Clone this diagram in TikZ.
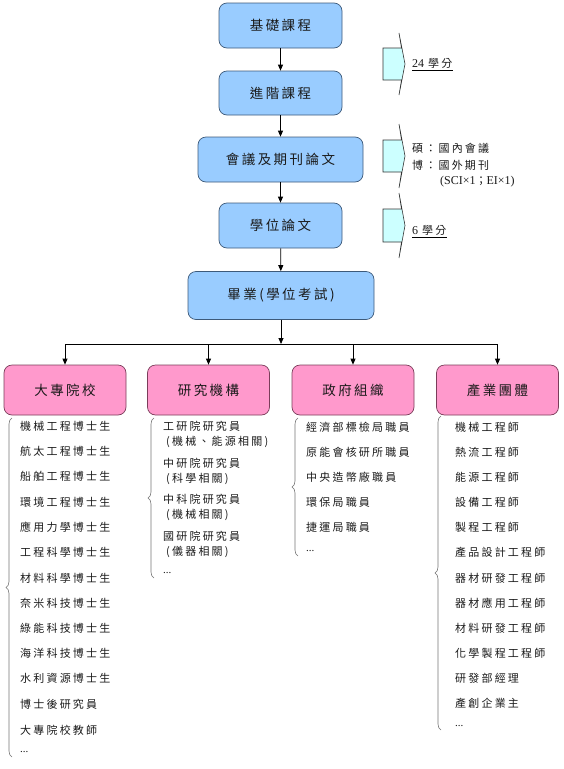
\documentclass[tikz,border=0pt]{standalone}
\usepackage{fontspec}
\setmainfont{Liberation Serif}
\newfontfamily\cjkbox{Noto Sans CJK TC}[LetterSpace=18]
\newfontfamily\cjklist{Noto Sans CJK TC}[LetterSpace=20]
\newfontfamily\cjkplain{Noto Sans CJK TC}
\usetikzlibrary{arrows.meta,decorations.pathreplacing}
\definecolor{bluefill}{HTML}{99CCFF}
\definecolor{bluedraw}{HTML}{3D5A7A}
\definecolor{pinkfill}{HTML}{FF99CC}
\definecolor{pinkdraw}{HTML}{7A3D5A}
\definecolor{cyanfill}{HTML}{CCFFFF}
\definecolor{txt}{HTML}{1A1A1A}
\tikzset{
  bluebox/.style={draw=bluedraw, fill=bluefill, rounded corners=8pt, minimum height=45pt, inner sep=0pt, line width=0.7pt, font=\cjkbox\fontsize{13.5}{15}\selectfont, text=txt},
  pinkbox/.style={draw=pinkdraw, fill=pinkfill, rounded corners=8pt, minimum width=122pt, minimum height=50pt, inner sep=0pt, line width=0.7pt, font=\cjkbox\fontsize{13.5}{15}\selectfont, text=txt},
  arr/.style={-{Triangle[length=6pt,width=5pt]}, line width=0.8pt},
  ln/.style={line width=0.8pt},
  item/.style={anchor=west, inner sep=0pt, font=\cjklist\fontsize{11}{12}\selectfont, text=txt},
  note/.style={anchor=west, inner sep=0pt, font=\cjklist\fontsize{11}{13}\selectfont, text=txt},
  brc/.style={decorate, decoration={brace, amplitude=6pt}, draw=black!55, line width=0.6pt},
  sidearrow/.style={draw=black!80, fill=cyanfill, line width=0.6pt, line join=miter}
}
\begin{document}
\begin{tikzpicture}[x=1pt,y=-1pt]
\useasboundingbox (0,0) rectangle (563,769);

% main column
\node[bluebox, minimum width=123pt] (b1) at (280.5,25.5) {基礎課程};
\node[bluebox, minimum width=123pt, minimum height=44pt] (b2) at (280.5,93) {進階課程};
\node[bluebox, minimum width=165pt] (b3) at (280.5,159.5) {會議及期刊論文};
\node[bluebox, minimum width=123pt] (b4) at (280.5,225.5) {學位論文};
\node[bluebox, minimum width=186pt, minimum height=48pt] (b5) at (281,295.5) {畢業(學位考試)};

\draw[arr] (b1) -- (b2);
\draw[arr] (b2) -- (b3);
\draw[arr] (b3) -- (b4);
\draw[arr] (b4) -- (b5);

% branches
\node[pinkbox] (p1) at (65,390) {大專院校};
\node[pinkbox] (p2) at (208.5,390) {研究機構};
\node[pinkbox] (p3) at (353,390) {政府組織};
\node[pinkbox] (p4) at (497.5,390) {產業團體};

\coordinate (j) at (281,344);
\coordinate (jl) at (65,344);
\coordinate (jr) at (497.5,344);
\draw[arr] (b5) -- (j);
\draw[ln] (jl) -- (jr);
\draw[arr] (jl) -- (p1);
\draw[arr] (p2 |- j) -- (p2);
\draw[arr] (p3 |- j) -- (p3);
\draw[arr] (jr) -- (p4);

% side arrows
\draw[sidearrow] (383,48) -- (401.5,48) -- (399,33) -- (405,64) -- (399,95) -- (401.5,80) -- (383,80) -- cycle;
\draw[sidearrow] (383,140) -- (401.5,140) -- (399,124) -- (405,156) -- (399,188) -- (401.5,172) -- (383,172) -- cycle;
\draw[sidearrow] (383,209) -- (401.5,209) -- (399,193) -- (405,225.5) -- (399,258) -- (401.5,242) -- (383,242) -- cycle;

\node[note] (s1) at (412,63) {{\rmfamily\fontsize{12}{14}\selectfont 24}\hspace{4pt}學分};
\draw[line width=0.6pt] ([yshift=-3pt]s1.base west) -- ([yshift=-3pt]s1.base east);
\node[note] (s2) at (412,148) {碩：國內會議};
\node[note] (s3) at (412,165) {博：國外期刊};
\node[note] (s4) at (440,182) {{\rmfamily\fontsize{12}{14}\selectfont (SCI×1}{\cjkplain；}{\rmfamily\fontsize{12}{14}\selectfont EI×1)}};
\node[note] (s5) at (412,230) {{\rmfamily\fontsize{12}{14}\selectfont 6}\hspace{4pt}學分};
\draw[line width=0.6pt] ([yshift=-3pt]s5.base west) -- ([yshift=-3pt]s5.base east);

% list 1
\draw[brc] (12,757) -- (12,418);
\node[item] (a1) at (20,426) {機械工程博士生};
\node[item] (a2) at (20,451) {航太工程博士生};
\node[item] (a3) at (20,476) {船舶工程博士生};
\node[item] (a4) at (20,502) {環境工程博士生};
\node[item] (a5) at (20,527) {應用力學博士生};
\node[item] (a6) at (20,552) {工程科學博士生};
\node[item] (a7) at (20,578) {材料科學博士生};
\node[item] (a8) at (20,603) {奈米科技博士生};
\node[item] (a9) at (20,628) {綠能科技博士生};
\node[item] (a10) at (20,653) {海洋科技博士生};
\node[item] (a11) at (20,678) {水利資源博士生};
\node[item] (a12) at (20,704) {博士後研究員};
\node[item] (a13) at (20,730) {大專院校教師};
\node[item] (a14) at (20,752) {\rmfamily ...};

% list 2
\draw[brc] (154,578) -- (154,418);
\node[item] (r1) at (163,426) {工研院研究員};
\node[item] (r1b) at (166,442) {(機械、能源相關)};
\node[item] (r2) at (163,463) {中研院研究員};
\node[item] (r2b) at (166,479) {(科學相關)};
\node[item] (r3) at (163,499) {中科院研究員};
\node[item] (r3b) at (166,515) {(機械相關)};
\node[item] (r4) at (163,536) {國研院研究員};
\node[item] (r4b) at (166,552) {(儀器相關)};
\node[item] (r5) at (163,573) {\rmfamily ...};

% list 3
\draw[brc] (298,556) -- (298,418);
\node[item] (g1) at (306,427) {經濟部標檢局職員};
\node[item] (g2) at (306,452) {原能會核研所職員};
\node[item] (g3) at (306,477) {中央造幣廠職員};
\node[item] (g4) at (306,502) {環保局職員};
\node[item] (g5) at (306,527) {捷運局職員};
\node[item] (g6) at (306,551) {\rmfamily ...};

% list 4
\draw[brc] (441,730) -- (441,416);
\node[item] (i1) at (455,427) {機械工程師};
\node[item] (i2) at (455,452) {熱流工程師};
\node[item] (i3) at (455,477) {能源工程師};
\node[item] (i4) at (455,502) {設備工程師};
\node[item] (i5) at (455,527) {製程工程師};
\node[item] (i6) at (455,552) {產品設計工程師};
\node[item] (i7) at (455,578) {器材研發工程師};
\node[item] (i8) at (455,603) {器材應用工程師};
\node[item] (i9) at (455,628) {材料研發工程師};
\node[item] (i10) at (455,653) {化學製程工程師};
\node[item] (i11) at (455,678) {研發部經理};
\node[item] (i12) at (455,703) {產創企業主};
\node[item] (i13) at (455,726) {\rmfamily ...};
\end{tikzpicture}
\end{document}
